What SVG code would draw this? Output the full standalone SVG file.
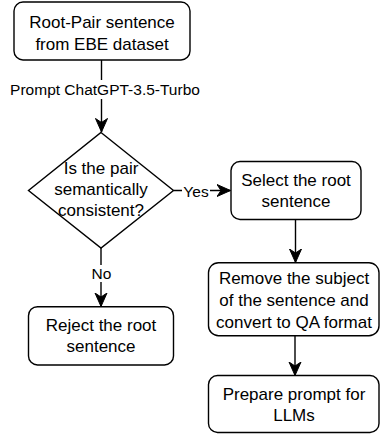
<svg xmlns="http://www.w3.org/2000/svg" width="380" height="436" viewBox="0 0 380 436">
  <defs>
    <style>
      .node { fill: #ffffff; stroke: #000000; stroke-width: 1.4; }
      .t { font-family: "Liberation Sans", Arial, sans-serif; font-size: 17px; fill: #000000; text-anchor: middle; }
      .lbl { font-family: "Liberation Sans", Arial, sans-serif; font-size: 15.5px; fill: #000000; text-anchor: middle; }
      .edge { fill: none; stroke: #000000; stroke-width: 1.4; marker-end: url(#arrow); }
      .lblbg { fill: #ffffff; stroke: none; }
    </style>
    <marker id="arrow" markerUnits="userSpaceOnUse" viewBox="-14 -7 15 14" markerWidth="15" markerHeight="14" refX="0" refY="0" orient="auto">
      <path d="M0,0 L-13.5,-6 L-9.5,0 L-13.5,6 Z" fill="#000000" stroke="#000000" stroke-width="1"/>
    </marker>
  </defs>

  <g id="connectors">
    <line class="edge" x1="101.5" y1="60" x2="101.5" y2="132"/>
    <rect class="lblbg" x="7" y="80" width="197" height="19"/>
    <text class="lbl" x="105" y="94.5">Prompt ChatGPT-3.5-Turbo</text>

    <line class="edge" x1="173.5" y1="190.5" x2="230.5" y2="190.5"/>
    <rect class="lblbg" x="182" y="182" width="28" height="17"/>
    <text class="lbl" x="196" y="196.5">Yes</text>

    <line class="edge" x1="101" y1="248" x2="101" y2="306.5"/>
    <rect class="lblbg" x="89" y="265" width="24" height="17"/>
    <text class="lbl" x="101.5" y="279">No</text>

    <line class="edge" x1="295.5" y1="219.5" x2="295.5" y2="262.5"/>
    <line class="edge" x1="295" y1="336" x2="295" y2="375.5"/>
  </g>

  <g id="node-root-pair">
    <rect class="node" x="14" y="2" width="176" height="58" rx="9" ry="9"/>
    <text class="t" x="102" y="28">Root-Pair sentence</text>
    <text class="t" x="102" y="49.5">from EBE dataset</text>
  </g>

  <g id="node-decision">
    <polygon class="node" points="101,132.5 173.5,190.5 101,248 28.5,190.5"/>
    <text class="t" x="101" y="173.5">Is the pair</text>
    <text class="t" x="101" y="194.5">semantically</text>
    <text class="t" x="101" y="215.5">consistent?</text>
  </g>

  <g id="node-select">
    <rect class="node" x="231" y="161.5" width="130" height="58" rx="9" ry="9"/>
    <text class="t" x="296" y="185.5">Select the root</text>
    <text class="t" x="296" y="207">sentence</text>
  </g>

  <g id="node-remove">
    <rect class="node" x="208.5" y="262.7" width="170.5" height="73" rx="10" ry="10"/>
    <text class="t" x="294" y="284">Remove the subject</text>
    <text class="t" x="294" y="306">of the sentence and</text>
    <text class="t" x="294" y="327.5">convert to QA format</text>
  </g>

  <g id="node-prepare">
    <rect class="node" x="208.5" y="375.5" width="170.5" height="57" rx="9" ry="9"/>
    <text class="t" x="294" y="399.5">Prepare prompt for</text>
    <text class="t" x="294" y="421">LLMs</text>
  </g>

  <g id="node-reject">
    <rect class="node" x="28.5" y="306.7" width="145" height="58.3" rx="9" ry="9"/>
    <text class="t" x="101" y="331">Reject the root</text>
    <text class="t" x="101" y="352">sentence</text>
  </g>
</svg>
